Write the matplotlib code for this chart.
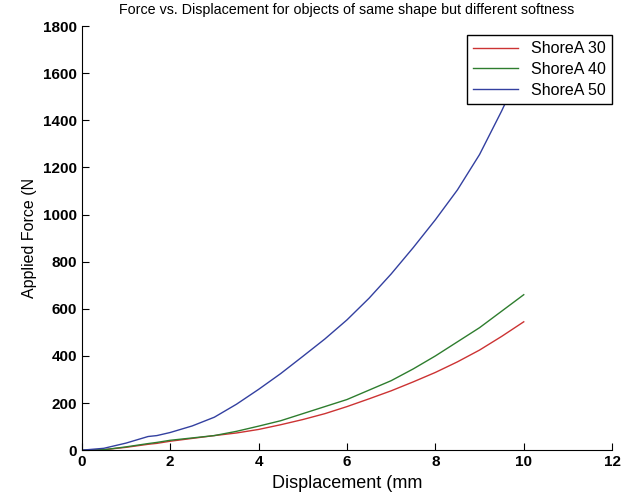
import matplotlib
matplotlib.use('Agg')
import matplotlib.pyplot as plt

plt.rcParams['font.family'] = ['Liberation Sans', 'DejaVu Sans']

# displacement (mm)
disp = [0, 0.5, 1, 1.5, 1.7, 2, 2.5, 3, 3.5, 4, 4.5, 5, 5.5, 6, 6.5, 7, 7.5, 8, 8.5, 9, 9.5, 10]

# applied force (N)
shore30 = [0, 2, 12, 25, 29, 38, 50, 62, 73, 88, 108, 130, 155, 185, 218, 252, 290, 330, 375, 425, 483, 545]
shore40 = [0, 2, 14, 28, 33, 42, 52, 62, 80, 102, 125, 155, 185, 215, 255, 295, 345, 400, 460, 520, 590, 660]
shore50 = [0, 8, 30, 58, 62, 75, 103, 140, 195, 258, 325, 398, 472, 553, 645, 748, 860, 978, 1105, 1255, 1440, 1640]

fig = plt.figure(figsize=(6.24, 5.03), dpi=100)
ax = fig.add_axes([0.131, 0.105, 0.850, 0.843])

ax.plot(disp, shore30, color='#cc3333', lw=1.0, label='ShoreA 30')
ax.plot(disp, shore40, color='#2e7d2e', lw=1.0, label='ShoreA 40')
ax.plot(disp, shore50, color='#3340a0', lw=1.0, label='ShoreA 50')

ax.set_xlim(0, 12)
ax.set_ylim(0, 1800)
ax.set_xticks(range(0, 13, 2))
ax.set_yticks(range(0, 1801, 200))
ax.spines['top'].set_visible(False)
ax.spines['right'].set_visible(False)
ax.tick_params(direction='in', length=5, labelsize=11)
for lab in ax.get_xticklabels() + ax.get_yticklabels():
    lab.set_fontweight('bold')

ax.set_xlabel('Displacement (mm', fontsize=13)
ax.set_ylabel('Applied Force (N', fontsize=11.5)
ax.set_title('Force vs. Displacement for objects of same shape but different softness',
             fontsize=10.3, pad=9)

leg = ax.legend(loc='upper right', bbox_to_anchor=(1.0, 0.979), fontsize=11.5,
                fancybox=False, edgecolor='black', framealpha=1,
                handlelength=2.8, borderaxespad=0, labelspacing=0.35)
leg.get_frame().set_linewidth(1.0)

fig.savefig('out.png', dpi=100)
